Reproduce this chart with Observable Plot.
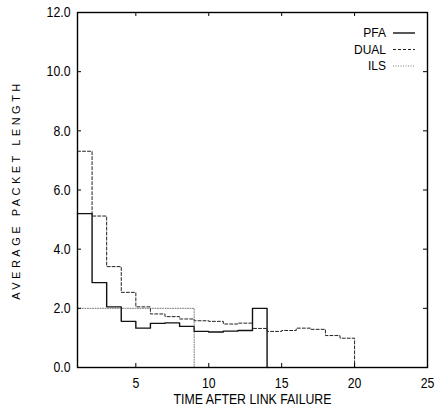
<!DOCTYPE html>
<html><head><meta charset="utf-8">
<script src="https://cdn.jsdelivr.net/npm/d3@7"></script>
<script src="https://cdn.jsdelivr.net/npm/@observablehq/plot@0.6"></script>
<style>
html,body{margin:0;padding:0;background:#fff;}
#chart svg{display:block;}
.ylab text{letter-spacing:3.5px;}
</style></head><body><div id="chart"></div>
<script>
// ---- data ----
const seriesNames = ["PFA", "DUAL", "ILS"];
const startTime = 1;
const pfa  = [5.20, 2.87, 2.05, 1.56, 1.33, 1.49, 1.51, 1.39, 1.22, 1.20, 1.23, 1.25, 2.00, 0];
const dual = [7.31, 5.12, 3.41, 2.54, 2.05, 1.81, 1.72, 1.64, 1.58, 1.56, 1.47, 1.50, 1.32, 1.22, 1.25, 1.33, 1.29, 1.08, 0.99, 0];
const ils  = [2.0, 2.0, 2.0, 2.0, 2.0, 2.0, 2.0, 2.0, 0];
const xTicks = [5, 10, 15, 20, 25];
const yTicks = [0, 2, 4, 6, 8, 10, 12];
const xDomain = [1, 25];
const yDomain = [0, 12];
const xLabel = "TIME AFTER LINK FAILURE";
const yLabel = "AVERAGE PACKET LENGTH";

// ---- layout / styles ----
const W = 435, H = 413, mL = 77, mR = 8, mT = 12, mB = 46;
const fw = W - mL - mR, fh = H - mT - mB;
const sans = "'Liberation Sans', Arial, Helvetica, sans-serif";
const condense = 0.82;
const styles = {
  PFA:  {stroke: "#111", strokeWidth: 1.4},
  DUAL: {stroke: "#222", strokeWidth: 1, strokeDasharray: "3,2"},
  ILS:  {stroke: "#555", strokeWidth: 0.8, strokeDasharray: "1,1.5"}
};
const seriesValues = {PFA: pfa, DUAL: dual, ILS: ils};
const toPoints = (name) => seriesValues[name].map((v, i) => ({t: startTime + i, v, name}));

function legend(index, scales, values, dims) {
  const g = d3.create("svg:g");
  const right = dims.width - dims.marginRight;
  const top = dims.marginTop;
  seriesNames.forEach((name, i) => {
    const cy = top + 21 + i * 16.5;
    g.append("text")
      .attr("x", right - 41).attr("y", cy).attr("dy", "0.35em")
      .attr("text-anchor", "end")
      .attr("font-family", sans).attr("font-size", 12).attr("fill", "#000")
      .text(name);
    const s = styles[name];
    g.append("line")
      .attr("x1", right - 34).attr("x2", right - 12)
      .attr("y1", cy).attr("y2", cy)
      .attr("stroke", s.stroke).attr("stroke-width", s.strokeWidth)
      .attr("stroke-dasharray", s.strokeDasharray || null);
  });
  return g.node();
}

const chart = Plot.plot({
  width: W, height: H,
  marginLeft: mL, marginRight: mR, marginTop: mT, marginBottom: mB,
  style: {fontFamily: sans, fontSize: "15px", color: "#000", background: "#fff"},
  x: {domain: xDomain},
  y: {domain: yDomain},
  marks: [
    ...seriesNames.map(name => Plot.line(toPoints(name), {x: "t", y: "v", curve: "step-after", ...styles[name]})),
    Plot.frame({stroke: "#000", strokeWidth: 1.4}),
    // inward ticks on all four sides
    Plot.tickX(xTicks, {x: d => d, insetTop: fh - 4, stroke: "#000", strokeWidth: 1}),
    Plot.tickX(xTicks, {x: d => d, insetBottom: fh - 4, stroke: "#000", strokeWidth: 1}),
    Plot.tickY(yTicks, {y: d => d, insetRight: fw - 4, stroke: "#000", strokeWidth: 1}),
    Plot.tickY(yTicks, {y: d => d, insetLeft: fw - 4, stroke: "#000", strokeWidth: 1}),
    Plot.axisX({ticks: xTicks, tickSize: 0, tickPadding: 10, tickFormat: d => String(d), label: null, fontSize: 15, className: "cond"}),
    Plot.axisY({ticks: yTicks, tickSize: 0, tickPadding: 7, tickFormat: d3.format(".1f"), label: null, fontSize: 15, className: "cond"}),
    Plot.text([xLabel], {text: d => d, frameAnchor: "bottom", lineAnchor: "top", dy: 26, fontSize: 15, className: "cond"}),
    Plot.text([yLabel], {text: d => d, frameAnchor: "left", textAnchor: "middle", rotate: -90, dx: -61, fontSize: 11, className: "ylab"}),
    legend
  ]
});
document.getElementById("chart").appendChild(chart);

// horizontally condense the tall narrow lettering of the axes
chart.querySelectorAll(".cond text").forEach(el => {
  const L = el.getComputedTextLength();
  el.setAttribute("textLength", (L * condense).toFixed(2));
  el.setAttribute("lengthAdjust", "spacingAndGlyphs");
});
</script>
</body></html>
